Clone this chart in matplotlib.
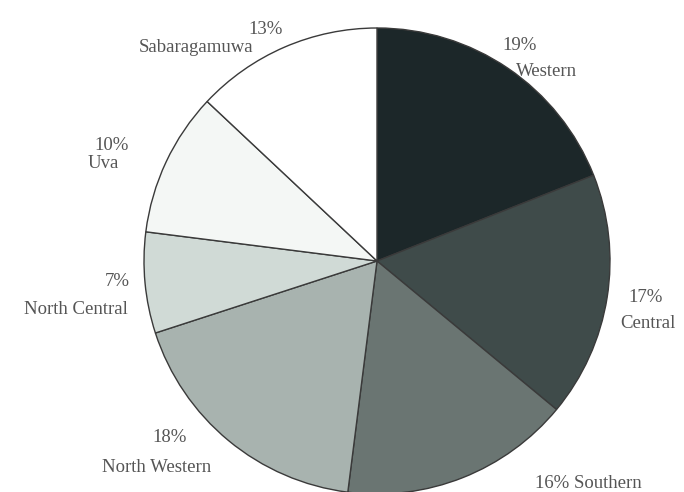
import matplotlib.pyplot as plt

# Share of each province (per cent)
provinces = ["Western", "Central", "Southern", "North Western",
             "North Central", "Uva", "Sabaragamuwa"]
shares = [19, 17, 16, 18, 7, 10, 13]
colors = ["#1c2729", "#3f4b4a", "#6a7572", "#a8b3af", "#d0dad6", "#f4f7f5", "#ffffff"]

# label centres in pixels: (percent line, name line); None = both on one line
label_px = {
    "Western": ((520, 45), (547, 71)),
    "Central": ((646, 297), (648, 323)),
    "Southern": ((588, 483), None),
    "North Western": ((170, 438), (157, 467)),
    "North Central": ((117, 282), (76, 309)),
    "Uva": ((112, 145), (103, 164)),
    "Sabaragamuwa": ((266, 30), (196, 47)),
}

plt.rcParams["font.family"] = ["Liberation Serif", "DejaVu Serif"]

W, H = 684, 492
fig = plt.figure(figsize=(W / 100, H / 100), dpi=100)
ax = fig.add_axes([144 / W, -2 / H, 466 / W, 466 / H])
ax.pie(shares, colors=colors, startangle=90, counterclock=False, radius=1,
       wedgeprops=dict(edgecolor="#3a3a3a", linewidth=1.0))
ax.set_xlim(-1, 1)
ax.set_ylim(-1, 1)
ax.set_aspect("equal")
ax.axis("off")

style = dict(ha="center", va="center", fontsize=13.5, color="#555555")
for name, share in zip(provinces, shares):
    pct_xy, name_xy = label_px[name]
    if name_xy is None:
        fig.text(pct_xy[0] / W, 1 - pct_xy[1] / H, f"{share}% {name}", **style)
    else:
        fig.text(pct_xy[0] / W, 1 - pct_xy[1] / H, f"{share}%", **style)
        fig.text(name_xy[0] / W, 1 - name_xy[1] / H, name, **style)

fig.savefig("out.png", dpi=100)
